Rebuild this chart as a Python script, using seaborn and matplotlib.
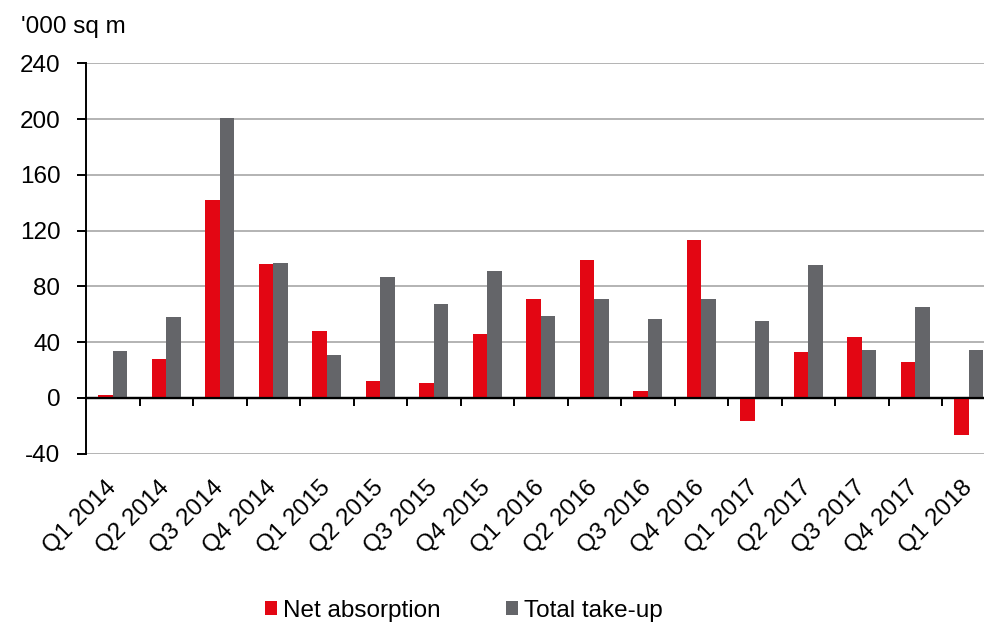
import numpy as np
import pandas as pd
import matplotlib
matplotlib.use("Agg")
import matplotlib.pyplot as plt
import seaborn as sns

quarters = ["Q1 2014", "Q2 2014", "Q3 2014", "Q4 2014",
            "Q1 2015", "Q2 2015", "Q3 2015", "Q4 2015",
            "Q1 2016", "Q2 2016", "Q3 2016", "Q4 2016",
            "Q1 2017", "Q2 2017", "Q3 2017", "Q4 2017",
            "Q1 2018"]
net_absorption = [2, 28, 142, 96, 48, 12, 11, 46, 71, 99, 5, 113,
                  -16.5, 33, 43.5, 26, -26.5]
total_take_up = [33.5, 58, 201, 96.5, 30.5, 86.5, 67.5, 91, 59, 71, 56.5, 71,
                 55, 95, 34.5, 65, 34.5]
series_names = ["Net absorption", "Total take-up"]
y_ticks = [-40, 0, 40, 80, 120, 160, 200, 240]
unit_label = "'000 sq m"

df = pd.DataFrame({
    "quarter": quarters * 2,
    "value": net_absorption + total_take_up,
    "series": [series_names[0]] * len(quarters) + [series_names[1]] * len(quarters),
})

sns.set_theme(style="white")
plt.rcParams["font.family"] = ["Liberation Sans", "DejaVu Sans"]
plt.rcParams["text.color"] = "black"
plt.rcParams["xtick.color"] = "black"
plt.rcParams["ytick.color"] = "black"

FS = 17.5
fig = plt.figure(figsize=(9.84, 6.26), dpi=100)
ax = fig.add_axes([86 / 984, 1 - 453.7 / 626, 909.5 / 984, (453.7 - 63.3) / 626])

palette = {series_names[0]: "#E30613", series_names[1]: "#646569"}
sns.barplot(data=df, x="quarter", y="value", hue="series", palette=palette,
            width=0.55, saturation=1, linewidth=0, ax=ax, order=quarters,
            hue_order=series_names)

ymin, ymax = y_ticks[0], y_ticks[-1]
ax.set_ylim(ymin, ymax)
ax.set_xlim(-0.5, len(quarters) - 0.5)
ax.set_yticks(y_ticks)
ax.set_yticklabels([str(t) for t in y_ticks], fontsize=FS)
ax.yaxis.grid(True, color="#b3b3b3", linewidth=1.4)
ax.set_axisbelow(True)
for s in ["top", "right", "bottom"]:
    ax.spines[s].set_visible(False)
ax.spines["left"].set_color("black")
ax.spines["left"].set_linewidth(1.4)
ax.tick_params(axis="y", direction="out", length=6.5, width=1.4, color="black",
               pad=12, left=True, labelcolor="black")
ax.set_xlabel("")
ax.set_ylabel("")

# category labels at bottom
ax.set_xticks(range(len(quarters)))
ax.set_xticklabels(quarters, fontsize=FS, rotation=45, ha="right",
                   rotation_mode="anchor", va="center")
ax.tick_params(axis="x", length=0, pad=22, labelcolor="black")

# zero axis line with ticks at category boundaries
ax.axhline(0, color="black", linewidth=1.6, zorder=2.5)
loc0 = (0 - ymin) / (ymax - ymin)
sec = ax.secondary_xaxis(loc0)
sec.set_xticks(np.arange(0.5, len(quarters) - 1, 1.0))
sec.set_xticklabels([])
sec.tick_params(axis="x", direction="out", length=5.5, width=1.4, color="black")
for sp in sec.spines.values():
    sp.set_color("black")
    sp.set_linewidth(1.6)

fig.text(21 / 984, 1 - 33 / 626, unit_label, fontsize=FS, ha="left",
         va="baseline", color="black")

sns.move_legend(ax, loc="center", bbox_to_anchor=(464 / 984, 1 - 611 / 626),
                bbox_transform=fig.transFigure, ncol=2, frameon=False,
                title=None, fontsize=FS, handlelength=0.5, handleheight=0.5,
                handletextpad=0.25, columnspacing=2.7)

fig.savefig("out.png", dpi=100, facecolor="white")
